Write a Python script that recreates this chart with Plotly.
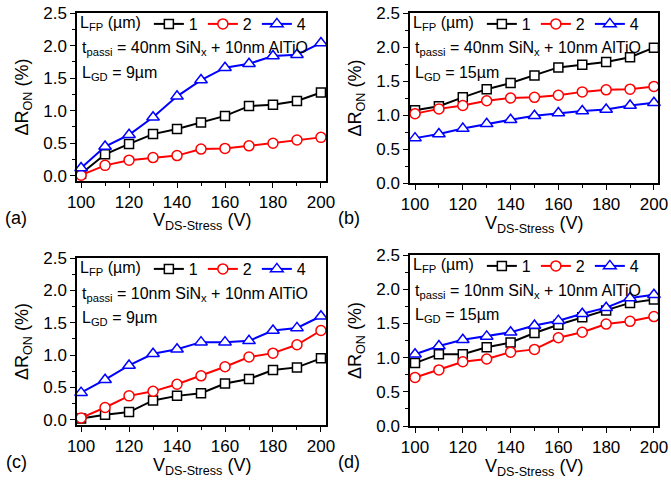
import plotly.graph_objects as go

# Stress voltage (V)
v_stress = [100, 110, 120, 130, 140, 150, 160, 170, 180, 190, 200]

# Delta R_ON (%) for field-plate lengths L_FP = 1, 2, 4 um
a_lfp1 = [0.03, 0.33, 0.49, 0.64, 0.72, 0.82, 0.92, 1.07, 1.09, 1.15, 1.28]
a_lfp2 = [0.01, 0.16, 0.24, 0.28, 0.31, 0.41, 0.42, 0.46, 0.50, 0.55, 0.59]
a_lfp4 = [0.12, 0.45, 0.63, 0.90, 1.22, 1.47, 1.66, 1.72, 1.84, 1.86, 2.04]

b_lfp1 = [1.07, 1.13, 1.26, 1.38, 1.47, 1.58, 1.70, 1.74, 1.78, 1.85, 1.99]
b_lfp2 = [1.02, 1.09, 1.14, 1.21, 1.25, 1.26, 1.29, 1.34, 1.37, 1.38, 1.42]
b_lfp4 = [0.66, 0.72, 0.80, 0.87, 0.93, 0.99, 1.03, 1.06, 1.08, 1.14, 1.18]

c_lfp1 = [0.02, 0.08, 0.12, 0.30, 0.37, 0.41, 0.56, 0.63, 0.77, 0.81, 0.95]
c_lfp2 = [0.03, 0.19, 0.37, 0.44, 0.55, 0.68, 0.82, 0.97, 1.03, 1.16, 1.38]
c_lfp4 = [0.42, 0.62, 0.84, 1.02, 1.09, 1.20, 1.20, 1.22, 1.38, 1.42, 1.60]

d_lfp1 = [0.92, 1.05, 1.05, 1.15, 1.22, 1.36, 1.48, 1.59, 1.69, 1.80, 1.85]
d_lfp2 = [0.71, 0.82, 0.94, 0.98, 1.08, 1.12, 1.29, 1.37, 1.49, 1.53, 1.60]
d_lfp4 = [1.05, 1.17, 1.26, 1.31, 1.37, 1.47, 1.54, 1.64, 1.73, 1.87, 1.92]

lfp_names = ["1", "2", "4"]
x_ticks = [100, 120, 140, 160, 180, 200]
y_ticks = [0.0, 0.5, 1.0, 1.5, 2.0, 2.5]

W, H = 671, 485
FONT = "Liberation Sans, Arial, sans-serif"


def fx(p):
    return p / W


def fy(p):
    return 1 - p / H


# pixel boxes of the four panels, plus the row baseline for the panel tags
panels = [
    dict(tag="(a)", xpx=(77, 326), ypx=(13, 181), row_y=218, yr=(-0.08, 2.5), xr=(98.3, 202.1),
         sin="40nm", lgd="9", series=(a_lfp1, a_lfp2, a_lfp4)),
    dict(tag="(b)", xpx=(410, 658), ypx=(13, 183), row_y=218, yr=(0.0, 2.5), xr=(97.9, 201.7),
         sin="40nm", lgd="15", series=(b_lfp1, b_lfp2, b_lfp4)),
    dict(tag="(c)", xpx=(77, 326), ypx=(258, 425), row_y=462, yr=(-0.08, 2.5), xr=(98.3, 202.1),
         sin="10nm", lgd="9", series=(c_lfp1, c_lfp2, c_lfp4)),
    dict(tag="(d)", xpx=(410, 658), ypx=(255, 426), row_y=462, yr=(0.0, 2.5), xr=(97.9, 201.7),
         sin="10nm", lgd="15", series=(d_lfp1, d_lfp2, d_lfp4)),
]

styles = [
    dict(color="black", symbol="square", size=9),
    dict(color="red", symbol="circle", size=10),
    dict(color="blue", symbol="triangle-up", size=11),
]

fig = go.Figure()
layout = dict(
    width=W, height=H,
    margin=dict(l=0, r=0, t=0, b=0, autoexpand=False),
    paper_bgcolor="white", plot_bgcolor="white",
    font=dict(family=FONT, color="black"),
    annotations=[],
)

for i, p in enumerate(panels):
    n = i + 1
    sfx = "" if n == 1 else str(n)
    lg = "legend" if n == 1 else f"legend{n}"
    for vals, name, st in zip(p["series"], lfp_names, styles):
        fig.add_trace(go.Scatter(
            x=v_stress, y=vals, name=name, mode="lines+markers",
            xaxis=f"x{sfx}", yaxis=f"y{sfx}", legend=lg,
            line=dict(color=st["color"], width=2),
            marker=dict(symbol=st["symbol"], size=st["size"], color="white",
                        line=dict(color=st["color"], width=1.5)),
            cliponaxis=False,
        ))

    x0, x1 = p["xpx"]
    y0, y1 = p["ypx"]
    axis_common = dict(
        ticks="outside", ticklen=5, tickwidth=1.3, tickcolor="black",
        showline=True, linewidth=1.5, linecolor="black", mirror=True,
        showgrid=False, zeroline=False, automargin=False,
        tickfont=dict(family=FONT, size=17, color="black"),
    )
    layout[f"xaxis{sfx}"] = dict(
        domain=[fx(x0), fx(x1)], anchor=f"y{sfx}", range=list(p["xr"]),
        tickvals=x_ticks,
        minor=dict(tick0=100, dtick=10, ticks="outside", ticklen=3, tickwidth=1.3,
                   tickcolor="black", showgrid=False),
        **axis_common,
    )
    layout[f"yaxis{sfx}"] = dict(
        domain=[fy(y1), fy(y0)], anchor=f"x{sfx}", range=list(p["yr"]),
        tickvals=y_ticks, tickformat=".1f",
        minor=dict(tick0=0, dtick=0.25, ticks="outside", ticklen=3, tickwidth=1.3,
                   tickcolor="black", showgrid=False),
        title=dict(text="ΔR<sub>ON</sub> (%)", standoff=10,
                   font=dict(family=FONT, size=18)),
        **axis_common,
    )
    layout[lg] = dict(
        orientation="h", x=fx(x0 + 1), y=fy(y0 - 6), xanchor="left", yanchor="top",
        xref="paper", yref="paper",
        title=dict(text="L<sub>FP</sub> (µm)", side="left",
                   font=dict(family=FONT, size=16)),
        font=dict(family=FONT, size=16, color="black"),
        bgcolor="rgba(0,0,0,0)", borderwidth=0, itemwidth=30,
    )
    layout["annotations"] += [
        dict(text=f"t<sub>passi</sub> = {p['sin']} SiN<sub>x</sub> + 10nm AlTiO",
             x=fx(x0 + 3), y=fy(y0 + 36), xref="paper", yref="paper",
             xanchor="left", yanchor="middle", showarrow=False,
             font=dict(family=FONT, size=16)),
        dict(text=f"L<sub>GD</sub> = {p['lgd']}µm",
             x=fx(x0 + 3), y=fy(y0 + 60), xref="paper", yref="paper",
             xanchor="left", yanchor="middle", showarrow=False,
             font=dict(family=FONT, size=16)),
        dict(text="V<sub>DS-Stress</sub> (V)", x=fx((x0 + x1) / 2), y=fy(y1 + 41),
             xref="paper", yref="paper", xanchor="center", yanchor="middle",
             showarrow=False, font=dict(family=FONT, size=18)),
        dict(text=p["tag"], x=fx(x0 - 61), y=fy(p["row_y"]), xref="paper", yref="paper",
             xanchor="center", yanchor="middle", showarrow=False,
             font=dict(family=FONT, size=18)),
    ]

fig.update_layout(**layout)
fig.write_html("out.html")
